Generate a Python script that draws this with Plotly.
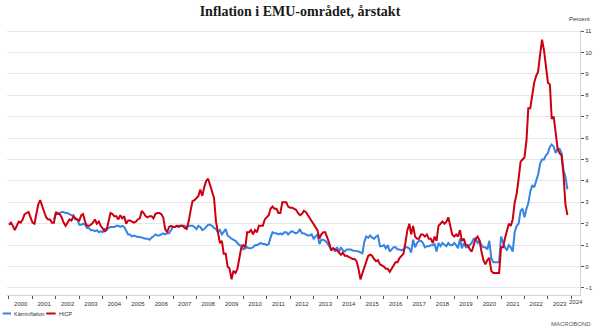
import pandas as pd
import plotly.graph_objects as go

# Euro area inflation, annual rate (%), monthly from Jan 2000 to Nov 2023
hicp = [
    1.95, 2.05, 1.9, 1.7, 1.9, 2.1, 2.05, 2.2, 2.45, 2.5, 2.55, 2.3,      # 2000
    2.05, 2.0, 2.5, 2.9, 3.1, 2.8, 2.5, 2.3, 2.2, 2.2, 2.05, 2.05,        # 2001
    2.55, 2.45, 2.45, 2.3, 2.05, 1.9, 2.05, 2.2, 2.15, 2.35, 2.25, 2.2,   # 2002
    2.15, 2.4, 2.45, 2.1, 1.9, 1.9, 1.95, 2.05, 2.2, 2.0, 2.1, 1.9,       # 2003
    1.8, 1.65, 1.7, 2.1, 2.5, 2.45, 2.35, 2.35, 2.2, 2.4, 2.25, 2.35,     # 2004
    2.0, 2.15, 2.15, 2.1, 2.05, 2.1, 2.2, 2.25, 2.6, 2.5, 2.35, 2.3,      # 2005
    2.35, 2.35, 2.25, 2.45, 2.5, 2.5, 2.45, 2.3, 1.75, 1.6, 1.85, 1.9,    # 2006
    1.85, 1.85, 1.9, 1.85, 1.9, 1.9, 1.8, 1.75, 2.1, 2.6, 3.05, 3.1,      # 2007
    3.2, 3.3, 3.6, 3.3, 3.7, 4.0, 4.1, 3.8, 3.6, 3.2, 2.1, 1.6,           # 2008
    1.1, 1.2, 0.6, 0.6, 0.0, -0.1, -0.6, -0.2, -0.3, -0.1, 0.5, 0.9,      # 2009
    1.0, 0.9, 1.6, 1.6, 1.7, 1.5, 1.7, 1.6, 1.9, 1.9, 1.9, 2.2,           # 2010
    2.3, 2.4, 2.7, 2.8, 2.7, 2.7, 2.5, 2.5, 3.0, 3.0, 3.0, 2.8,           # 2011
    2.75, 2.75, 2.7, 2.65, 2.5, 2.4, 2.45, 2.6, 2.55, 2.4, 2.25, 2.15,    # 2012
    2.0, 1.8, 1.7, 1.3, 1.5, 1.6, 1.6, 1.35, 1.1, 0.75, 0.85, 0.8,        # 2013
    0.75, 0.65, 0.55, 0.65, 0.5, 0.5, 0.45, 0.4, 0.35, 0.35, 0.25, -0.1,  # 2014
    -0.6, -0.3, -0.05, 0.2, 0.5, 0.55, 0.5, 0.35, 0.25, 0.3, 0.1, 0.05,   # 2015
    0.0, -0.1, -0.1, -0.25, -0.1, 0.1, 0.2, 0.2, 0.4, 0.5, 0.6, 1.1,      # 2016
    1.7, 2.0, 1.5, 1.9, 1.4, 1.3, 1.3, 1.5, 1.5, 1.4, 1.5, 1.3,           # 2017
    1.3, 1.1, 1.4, 1.2, 1.9, 2.0, 2.1, 2.0, 2.1, 2.3, 1.9, 1.5,           # 2018
    1.4, 1.5, 1.4, 1.7, 1.2, 1.3, 1.0, 1.0, 0.8, 0.7, 1.0, 1.3,           # 2019
    1.4, 1.2, 0.7, 0.3, 0.1, 0.3, 0.4, -0.2, -0.3, -0.3, -0.3, -0.3,      # 2020
    0.9, 0.9, 1.3, 1.6, 2.0, 1.9, 2.2, 3.0, 3.4, 4.1, 4.9, 5.0,           # 2021
    5.1, 5.9, 7.4, 7.4, 8.1, 8.6, 8.9, 9.1, 9.9, 10.6, 10.1, 9.2,         # 2022
    8.6, 8.5, 6.9, 7.0, 6.1, 5.5, 5.3, 5.2, 4.3, 2.9, 2.4,                # 2023
]

# Core inflation, monthly from Dec 2001 to Nov 2023
core = [
    2.2,                                                                  # 2001 (Dec)
    2.45, 2.5, 2.5, 2.55, 2.55, 2.5, 2.5, 2.45, 2.4, 2.4, 2.2, 2.2,       # 2002
    1.95, 1.95, 2.0, 1.95, 1.8, 1.8, 1.7, 1.7, 1.65, 1.7, 1.6, 1.65,      # 2003
    1.6, 1.75, 1.75, 1.8, 1.85, 1.85, 1.85, 1.9, 1.9, 1.85, 1.9, 1.85,    # 2004
    1.65, 1.5, 1.5, 1.4, 1.45, 1.4, 1.38, 1.38, 1.35, 1.35, 1.3, 1.3,     # 2005
    1.25, 1.35, 1.4, 1.5, 1.45, 1.45, 1.5, 1.55, 1.5, 1.55, 1.55, 1.7,    # 2006
    1.85, 1.85, 1.9, 1.9, 1.9, 1.9, 1.9, 1.8, 1.9, 1.9, 1.9, 1.85,        # 2007
    1.75, 1.9, 1.85, 1.7, 1.75, 1.85, 1.95, 1.95, 1.9, 1.8, 1.75, 1.6,    # 2008
    1.7, 1.5, 1.6, 1.75, 1.45, 1.35, 1.3, 1.25, 1.2, 1.1, 1.0, 1.0,       # 2009
    0.8, 0.85, 0.9, 0.85, 0.85, 0.9, 1.0, 1.0, 1.05, 1.1, 1.05, 1.05,     # 2010
    1.0, 1.05, 1.35, 1.6, 1.55, 1.55, 1.5, 1.55, 1.5, 1.6, 1.6, 1.5,      # 2011
    1.6, 1.65, 1.6, 1.55, 1.6, 1.75, 1.55, 1.55, 1.5, 1.45, 1.45, 1.5,    # 2012
    1.3, 1.4, 1.5, 1.05, 1.25, 1.25, 1.2, 1.1, 0.95, 0.8, 0.85, 0.7,      # 2013
    0.9, 0.7, 0.9, 0.75, 0.7, 0.8, 0.8, 0.8, 0.75, 0.75, 0.72, 0.7,       # 2014
    0.65, 0.62, 1.15, 1.4, 1.35, 1.45, 1.35, 1.3, 1.4, 1.45, 0.95, 0.95,  # 2015
    1.0, 0.85, 1.0, 0.7, 0.8, 0.9, 0.9, 0.8, 0.8, 0.75, 0.8, 0.9,         # 2016
    0.9, 0.85, 0.65, 1.25, 0.9, 1.1, 1.2, 1.2, 1.1, 0.9, 0.95, 0.95,      # 2017
    1.0, 1.0, 1.05, 0.7, 1.1, 0.95, 1.1, 1.0, 0.95, 1.1, 1.0, 1.0,        # 2018
    1.1, 1.0, 0.85, 1.3, 0.85, 1.1, 0.9, 0.9, 1.0, 1.1, 1.3, 1.3,         # 2019
    1.1, 1.2, 1.0, 0.9, 0.9, 0.8, 1.2, 0.4, 0.2, 0.2, 0.2, 0.2,           # 2020
    1.4, 1.1, 0.9, 0.75, 1.0, 0.9, 0.7, 1.6, 1.9, 2.0, 2.6, 2.7,          # 2021
    2.3, 2.7, 2.95, 3.5, 3.8, 3.7, 4.0, 4.3, 4.8, 5.0, 5.0, 5.2,          # 2022
    5.3, 5.6, 5.7, 5.6, 5.3, 5.5, 5.5, 5.3, 4.5, 4.2, 3.6,                # 2023
]

series_names = ["Kärninflation", "HICP"]
title_text = "Inflation i EMU-området, årstakt"
unit_text = "Percent"
source_text = "MACROBOND"
last_year_label = "2024"

hicp_dates = pd.date_range("2000-01-01", periods=len(hicp), freq="MS")
core_dates = pd.date_range("2001-12-01", periods=len(core), freq="MS")

BLUE = "#3584e4"
RED = "#cc0010"
TEXT = "#333333"
FONT = "Liberation Sans, Arial, sans-serif"

W, H = 600, 333
ML, MR, MT, MB = 7, 16, 30, 38
PW, PH = W - ML - MR, H - MT - MB


def px_x(px):
    return (px - ML) / PW


def px_y(py):
    return (H - MB - py) / PH


fig = go.Figure()
fig.add_trace(go.Scatter(x=core_dates, y=core, name=series_names[0], mode="lines",
                         line=dict(color=BLUE, width=2)))
fig.add_trace(go.Scatter(x=hicp_dates, y=hicp, name=series_names[1], mode="lines",
                         line=dict(color=RED, width=2)))

fig.update_layout(
    width=W, height=H,
    margin=dict(l=ML, r=MR, t=MT, b=MB),
    paper_bgcolor="white", plot_bgcolor="white",
    showlegend=False,
    title=dict(text=title_text, x=0.5, xref="container", xanchor="center",
               y=1 - 11 / H, yref="container", yanchor="middle",
               font=dict(family="Liberation Serif, Georgia, serif", size=14,
                         color="#1a1a1a", weight="bold")),
)

fig.update_xaxes(
    type="date",
    range=["1999-12-01", "2024-05-15"],
    tick0="2000-01-01", dtick="M12", tickformat="%Y",
    ticklabelmode="period",
    ticks="outside", ticklen=3, tickcolor="#555555", tickwidth=1,
    showline=True, linecolor="#d4d4d4", linewidth=1,
    showgrid=False, zeroline=False,
    tickfont=dict(family=FONT, size=6, color=TEXT),
)

fig.update_yaxes(
    side="right",
    range=[-1.33, 11.05],
    tick0=0, dtick=1,
    ticks="outside", ticklen=3, tickcolor="#555555", tickwidth=1,
    showline=True, linecolor="#d4d4d4", linewidth=1,
    showgrid=True, gridcolor="#e6e6e6", gridwidth=1,
    zeroline=False,
    tickfont=dict(family=FONT, size=6, color=TEXT),
)

small = dict(family=FONT, size=6, color=TEXT)
legend_font = dict(family=FONT, size=5.5, color=TEXT)
annotations = [
    dict(text=unit_text, x=px_x(596), y=px_y(19), xanchor="right", yanchor="middle"),
    dict(text=series_names[0], x=px_x(12), y=px_y(313.5), xanchor="left", yanchor="middle",
         font=legend_font),
    dict(text=series_names[1], x=px_x(57), y=px_y(313.5), xanchor="left", yanchor="middle",
         font=legend_font),
    dict(text=source_text, x=px_x(597), y=px_y(324), xanchor="right", yanchor="middle",
         font=dict(family=FONT, size=6, color="#555555")),
    # the final, partially shown year gets its label inside the visible stretch
    dict(text=last_year_label, x=px_x(580), y=px_y(301.5), xanchor="center", yanchor="middle"),
]
for a in annotations:
    a.setdefault("font", small)
    fig.add_annotation(xref="paper", yref="paper", showarrow=False, **a)

# legend swatches
for (x0, x1), color in [((2.7, 11), BLUE), ((46.5, 56), RED)]:
    fig.add_shape(type="line", xref="paper", yref="paper",
                  x0=px_x(x0), x1=px_x(x1), y0=px_y(313.5), y1=px_y(313.5),
                  line=dict(color=color, width=2))

fig.write_html("out.html")
